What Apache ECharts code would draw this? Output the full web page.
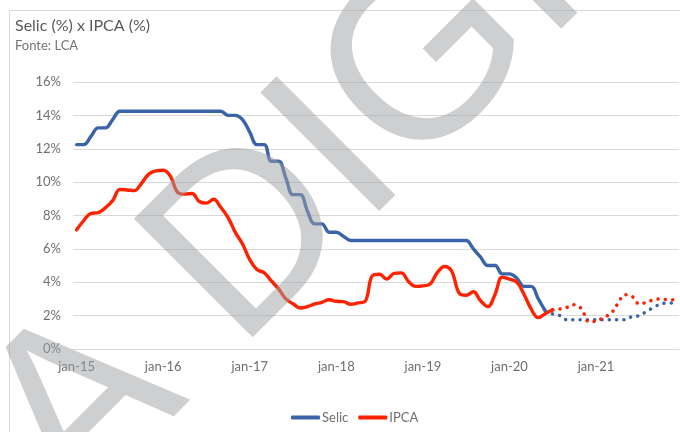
<!DOCTYPE html>
<html>
<head>
<meta charset="utf-8">
<script src="https://cdn.jsdelivr.net/npm/echarts@6/dist/echarts.min.js"></script>
<style>
  html, body { margin: 0; padding: 0; background: #fff; }
  #container { width: 680px; height: 432px; }
</style>
</head>
<body>
<div id="container"></div>
<script>
var dom = document.getElementById("container");
var myChart = echarts.init(dom);

// rótulos mensais jan-15 .. dez-21
var mesesAbrev = ['jan', 'fev', 'mar', 'abr', 'mai', 'jun', 'jul', 'ago', 'set', 'out', 'nov', 'dez'];
var anos = ['15', '16', '17', '18', '19', '20', '21'];
var meses = [];
anos.forEach(function (a) {
    mesesAbrev.forEach(function (m) { meses.push(m + '-' + a); });
});

// Selic realizada (jan-15 .. jun-20)
var selic = [
    12.25, 12.25, 12.75, 13.25, 13.25, 13.75, 14.25, 14.25, 14.25, 14.25, 14.25, 14.25,
    14.25, 14.25, 14.25, 14.25, 14.25, 14.25, 14.25, 14.25, 14.25, 14.0, 14.0, 13.75,
    13.0, 12.25, 12.25, 11.25, 11.25, 10.25, 9.25, 9.25, 8.25, 7.5, 7.5, 7.0,
    7.0, 6.75, 6.5, 6.5, 6.5, 6.5, 6.5, 6.5, 6.5, 6.5, 6.5, 6.5,
    6.5, 6.5, 6.5, 6.5, 6.5, 6.5, 6.5, 6.0, 5.5, 5.0, 5.0, 4.5,
    4.5, 4.25, 3.75, 3.75, 3.0, 2.25
];
// Selic projetada (jun-20 .. dez-21)
var selicProj = [
    2.25, 2.1, 2.0, 1.75, 1.75, 1.75, 1.75, 1.75, 1.75, 1.75, 1.75, 1.75,
    1.95, 2.0, 2.25, 2.5, 2.7, 2.75, 2.75
];
// IPCA acumulado 12m (jan-15 .. jul-20)
var ipca = [
    7.14, 7.70, 8.13, 8.17, 8.47, 8.89, 9.56, 9.53, 9.49, 9.93, 10.48, 10.67,
    10.71, 10.36, 9.39, 9.28, 9.32, 8.84, 8.74, 8.97, 8.48, 7.87, 6.99, 6.29,
    5.35, 4.76, 4.57, 4.08, 3.60, 3.00, 2.71, 2.46, 2.54, 2.70, 2.80, 2.95,
    2.86, 2.84, 2.68, 2.76, 2.86, 4.39, 4.48, 4.19, 4.53, 4.56, 4.05, 3.75,
    3.78, 3.89, 4.58, 4.94, 4.66, 3.37, 3.22, 3.43, 2.89, 2.54, 3.27, 4.31,
    4.19, 4.01, 3.30, 2.40, 1.88, 2.13, 2.35
];
// IPCA projetado (jul-20 .. dez-21)
var ipcaProj = [
    2.35, 2.4, 2.5, 2.65, 2.4, 1.65, 1.65, 1.9, 2.1, 2.7, 3.25, 3.15,
    2.7, 2.8, 2.95, 3.0, 2.95, 2.95
];

var azul = '#3b64a8';
var vermelho = '#ff2200';
var cinza = '#6f6f6f';
var fonte = 'Lato';

function posiciona(valores, inicio) {
    var out = [];
    for (var i = 0; i < meses.length; i++) {
        var j = i - inicio;
        out.push(j >= 0 && j < valores.length ? valores[j] : null);
    }
    return out;
}

var linha = function (nome, cor, valores, inicio, pontilhado) {
    return {
        name: nome,
        type: 'line',
        smooth: 0.4,
        showSymbol: false,
        symbol: 'none',
        connectNulls: false,
        data: posiciona(valores, inicio),
        itemStyle: { color: cor },
        lineStyle: pontilhado
            ? { color: cor, width: 3.5, type: [0.1, 7.2], cap: 'round' }
            : { color: cor, width: 3.4, cap: 'round', join: 'round' },
        z: pontilhado ? 3 : 4
    };
};

option = {
    animation: false,
    backgroundColor: '#fff',
    textStyle: { fontFamily: fonte },
    title: {
        text: 'Selic (%) x IPCA (%)',
        subtext: 'Fonte: LCA',
        left: 10,
        top: 13,
        itemGap: 5,
        textStyle: { fontSize: 16, fontWeight: 'normal', color: '#595959', fontFamily: fonte },
        subtextStyle: { fontSize: 13, color: '#737373', fontFamily: fonte }
    },
    legend: {
        data: ['Selic', 'IPCA'],
        left: 286,
        top: 406,
        icon: 'roundRect',
        itemWidth: 29,
        itemHeight: 4,
        itemGap: 10,
        textStyle: { fontSize: 13, color: cinza, fontFamily: fonte, padding: [0, 0, 0, -3] }
    },
    grid: { left: 73, right: 1, top: 82, bottom: 83 },
    xAxis: {
        type: 'category',
        data: meses,
        boundaryGap: true,
        axisLine: { lineStyle: { color: '#d9d9d9' } },
        axisTick: { interval: 11, length: 5, lineStyle: { color: '#d9d9d9' } },
        axisLabel: { interval: 11, color: cinza, fontSize: 13, margin: 11, fontFamily: fonte }
    },
    yAxis: {
        type: 'value',
        min: 0,
        max: 16,
        interval: 2,
        axisLine: { show: false },
        axisTick: { show: false },
        axisLabel: { formatter: '{value}%', color: cinza, fontSize: 13, margin: 12, fontFamily: fonte },
        splitLine: { lineStyle: { color: '#d9d9d9' } }
    },
    series: [
        linha('Selic', azul, selic, 0, false),
        linha('IPCA', vermelho, ipca, 0, false),
        linha('Selic projeção', azul, selicProj, 65, true),
        linha('IPCA projeção', vermelho, ipcaProj, 66, true)
    ],
    graphic: [
        {
            type: 'rect',
            silent: true,
            z: -10,
            shape: { x: 9.5, y: 10.5, width: 720, height: 460 },
            style: { fill: null, stroke: '#d9d9d9', lineWidth: 1 }
        },
        {
            type: 'text',
            silent: true,
            z: 100,
            x: 28,
            y: 467,
            rotation: Math.PI / 4,
            style: {
                text: 'A DIGITAL',
                font: '244px "Liberation Sans"',
                fill: 'rgba(158,160,164,0.5)',
                textAlign: 'left',
                textVerticalAlign: 'middle',
                align: 'left',
                verticalAlign: 'middle'
            }
        }
    ]
};

if (option && typeof option === "object") {
    myChart.setOption(option, false);
}
</script>
</body>
</html>
